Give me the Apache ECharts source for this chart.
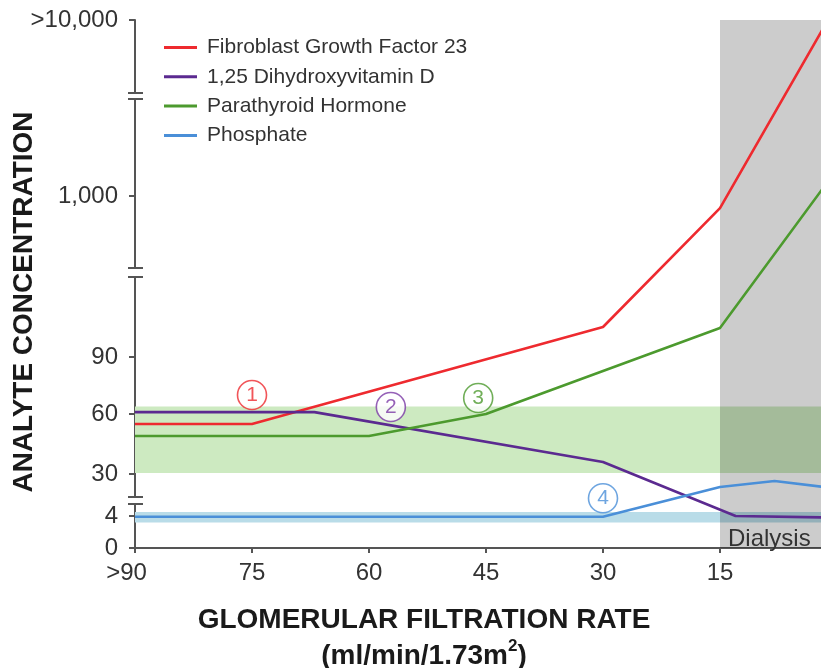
<!DOCTYPE html>
<html><head><meta charset="utf-8">
<script src="https://cdn.jsdelivr.net/npm/echarts@6/dist/echarts.min.js"></script>
<style>html,body{margin:0;padding:0;background:#fff}#c{width:821px;height:668px}</style>
</head><body><div id="c"></div>
<script>
// ---- data ----
const gfrTicks = [90, 75, 60, 45, 30, 15];
const gfrVisibleMin = 2.05;  // chart is cropped just before GFR 0
const yTickValues = [0, 4, 30, 60, 90, 1000, 10000];
const yTickLabels = ['0', '4', '30', '60', '90', '1,000', '>10,000'];
const yTickPos = [0, 32, 74, 134, 191, 352, 528];   // broken-scale positions of the ticks
const yBreaks = [[449, 455], [271, 280], [44, 51]];  // axis breaks (scale positions)

const seriesNames = ['Fibroblast Growth Factor 23', '1,25 Dihydroxyvitamin D', 'Parathyroid Hormone', 'Phosphate'];
const fgf23Gfr = [90, 75, 30, 15, 0];
const fgf23Val = [55, 55, 141, 835, 12300];
const vitDGfr = [90, 67, 30, 13, 0];
const vitDVal = [61, 61, 36, 4, 3.8];
const pthGfr = [90, 60, 45, 15, 0];
const pthVal = [49, 49, 60, 139, 1420];
const phosGfr = [90, 30, 15, 8, 0];
const phosVal = [3.9, 3.9, 22, 25.7, 21];

const pthNormalRange = [30.5, 64];
const phosNormalRange = [3.2, 6.5];
const dialysisGfr = [15, 0];
const dialysisLabel = 'Dialysis';

const markerNums = ['1', '2', '3', '4'];
const markerGfr = [75, 57.2, 46, 30];
const markerVal = [70, 63.7, 68.4, 15];

// ---- broken y scale ----
function toAxis(v) {
  const t = yTickValues, p = yTickPos;
  let i = 0;
  while (i < t.length - 2 && v > t[i + 1]) i++;
  const a = t[i], b = t[i + 1];
  const f = a >= 90 ? Math.log(v / a) / Math.log(b / a) : (v - a) / (b - a);
  return p[i] + f * (p[i + 1] - p[i]);
}
function pairs(xs, ys) { return xs.map((x, i) => [x, toAxis(ys[i])]); }

const colors = ['#ee2a2f', '#5b2a90', '#4c9a2e', '#4a8fd8'];
const markerColors = ['#ee2a2f', '#7a3aa5', '#4c9a2e', '#4a8fd8'];
const lineData = [pairs(fgf23Gfr, fgf23Val), pairs(vitDGfr, vitDVal), pairs(pthGfr, pthVal), pairs(phosGfr, phosVal)];

const FONT = '"Liberation Sans", Arial, sans-serif';
const chart = echarts.init(document.getElementById('c'), null, {renderer: 'canvas'});
const textColor = '#333';
const series = [];
series.push({
  type: 'line', data: [], z: 1, silent: true,
  markArea: {
    silent: true, z: 1,
    data: [
      [{yAxis: toAxis(pthNormalRange[0]), itemStyle: {color: '#cdeac1'}}, {yAxis: toAxis(pthNormalRange[1])}],
      [{yAxis: toAxis(phosNormalRange[0]), itemStyle: {color: '#b9dce8'}}, {yAxis: toAxis(phosNormalRange[1])}]
    ]
  }
});
series.push({
  type: 'line', data: [], z: 2, silent: true,
  markArea: {
    silent: true, z: 2,
    itemStyle: {color: 'rgba(0,0,0,0.2)'},
    label: {show: true, position: 'insideBottomLeft', fontSize: 24, color: textColor, fontFamily: FONT, distance: 0, offset: [8, 3]},
    data: [[{xAxis: dialysisGfr[0], name: dialysisLabel}, {xAxis: gfrVisibleMin}]]
  }
});
seriesNames.forEach((n, i) => {
  series.push({
    name: n, type: 'line', data: lineData[i], showSymbol: false, z: 3,
    lineStyle: {color: colors[i], width: 2.6}, itemStyle: {color: colors[i]}
  });
});
series.push({
  type: 'scatter', z: 4, symbol: 'circle', symbolSize: 29, silent: true,
  data: markerGfr.map((g, i) => ({
    value: [g, toAxis(markerVal[i])],
    itemStyle: {color: '#fff', borderColor: markerColors[i], borderWidth: 1.6},
    label: {color: markerColors[i]}
  })),
  label: {show: true, position: 'inside', fontSize: 21, fontFamily: FONT,
    formatter: p => markerNums[p.dataIndex]}
});

chart.setOption({
  animation: false,
  textStyle: {fontFamily: FONT},
  grid: {left: 135, right: 0, top: 20, bottom: 120, containLabel: false},
  legend: {
    orient: 'vertical', left: 159, top: 32, itemWidth: 33, itemHeight: 3, itemGap: 8.3,
    icon: 'rect', data: seriesNames,
    textStyle: {fontSize: 21, color: textColor, lineHeight: 21, padding: [0, 0, 0, 5]}
  },
  xAxis: {
    type: 'value', inverse: true, min: gfrVisibleMin, max: 90,
    axisLine: {onZero: false, lineStyle: {color: '#555', width: 2}},
    axisTick: {show: true, length: 5, customValues: gfrTicks, lineStyle: {color: '#555', width: 2}},
    axisLabel: {fontSize: 24, color: textColor, margin: 13, customValues: gfrTicks,
      formatter: v => Math.abs(v - 90) < 1e-6 ? '{g|>90}' : String(Math.round(v)),
      rich: {g: {fontSize: 24, color: textColor, fontFamily: FONT, padding: [0, 17, 0, 0]}}},
    splitLine: {show: false}
  },
  yAxis: {
    type: 'value', min: 0, max: yTickPos[yTickPos.length - 1],
    axisLine: {show: true, onZero: false, lineStyle: {color: '#555', width: 2}},
    axisTick: {show: true, length: 6, customValues: yTickPos, lineStyle: {color: '#555', width: 2}},
    axisLabel: {fontSize: 24, color: textColor, margin: 17, customValues: yTickPos,
      formatter: v => {
        let best = 0;
        yTickPos.forEach((p, i) => { if (Math.abs(p - v) < Math.abs(yTickPos[best] - v)) best = i; });
        return yTickLabels[best];
      }},
    splitLine: {show: false}
  },
  series: series
});

// axis-break marks and axis titles
const axisX = chart.convertToPixel({xAxisIndex: 0}, 90);
const graphics = [];
yBreaks.forEach(b => {
  const yLow = chart.convertToPixel({yAxisIndex: 0}, b[0]);
  const yHigh = chart.convertToPixel({yAxisIndex: 0}, b[1]);
  graphics.push({type: 'rect', z: 100, shape: {x: axisX - 3, y: yHigh + 1, width: 6, height: yLow - yHigh - 2}, style: {fill: '#fff'}});
  [yLow, yHigh].forEach(y => graphics.push({type: 'line', z: 101,
    shape: {x1: axisX - 7, y1: y, x2: axisX + 8, y2: y}, style: {stroke: '#555', lineWidth: 2}}));
});
graphics.push({
  type: 'text', z: 100, x: 24, y: 302, rotation: Math.PI / 2,
  style: {text: 'ANALYTE CONCENTRATION', font: 'bold 28px ' + FONT,
    fill: '#1a1a1a', align: 'center', verticalAlign: 'middle'}
});
graphics.push({
  type: 'text', z: 100, x: 424, y: 638,
  style: {
    text: '{t|GLOMERULAR FILTRATION RATE}\n{t|(ml/min/1.73m}{s|2}{t|)}',
    align: 'center', verticalAlign: 'middle', fill: '#1a1a1a',
    rich: {
      t: {font: 'bold 28px ' + FONT, fill: '#1a1a1a', lineHeight: 36, align: 'center'},
      s: {font: 'bold 17px ' + FONT, fill: '#1a1a1a', verticalAlign: 'top', lineHeight: 36, padding: [0, 0, 12, 0]}
    }
  }
});
chart.setOption({graphic: graphics});
</script>
</body></html>
